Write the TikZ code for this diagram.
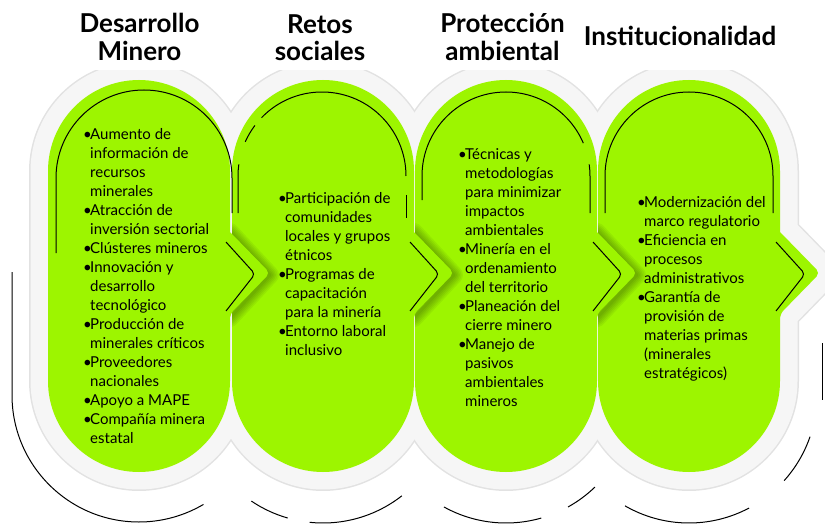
\documentclass[tikz,border=0pt]{standalone}
\usepackage{fontspec}
\setmainfont{Lato}
\usetikzlibrary{positioning}

\definecolor{panelgreen}{RGB}{157,245,0}
\definecolor{graybg}{RGB}{246,246,246}
\definecolor{grayedge}{RGB}{226,226,226}

% outline of one green panel (pill with arrow on the right), #1 = centre x
\newcommand{\panelpath}[1]{(#1-91,171) arc[start angle=180,end angle=360,radius=91] -- (#1+91,232) [rounded corners=5pt] -- (#1+131,273) -- (#1+91,314) [sharp corners] -- (#1+91,381) arc[start angle=0,end angle=180,radius=91] -- cycle}
\newcommand{\arrowpath}[1]{(#1+91,230) -- (#1+131,273) -- (#1+91,316) -- cycle}
\newcommand{\itm}{\makebox[6pt][l]{\hspace*{-1pt}\textbullet}}
\newcommand{\cnt}{\hspace*{6pt}}
\newcommand{\topr}{\rule{0pt}{15pt}}

\begin{document}
\begin{tikzpicture}[
    x=1pt, y=-1pt,
    title/.style={font=\bfseries\fontsize{26}{27.5}\selectfont, align=center, inner sep=0pt, anchor=north},
    bodytext/.style={font=\fontsize{15}{19}\selectfont, align=left, inner sep=0pt, anchor=north west},
    panel/.style={fill=panelgreen},
    deco/.style={black, line width=1pt},
    chevron/.style={black, line width=1pt, rounded corners=4pt},
    halo/.style={black, draw opacity=.05, line width=#1, line join=round, yshift=-2pt}
]
\useasboundingbox (0,0) rectangle (825,524);

% Light gray frame behind the panels
\begin{scope}
    \clip (0,71) rectangle (825,524);
    \foreach \cx in {139,323,506,689}
        \draw[grayedge, line width=38pt, line join=round] \panelpath{\cx};
    \foreach \cx in {139,323,506,689}
        \draw[graybg, fill=graybg, line width=35pt, line join=round] \panelpath{\cx};
\end{scope}

% Outer broken arcs
\draw[deco] (12,272) -- (12,395) arc[start angle=180,end angle=59.5,radius=127];
\draw[deco] (323,395) ++(124:128) arc[start angle=124,end angle=106,radius=128];
\draw[deco] (323,395) ++(96:128) arc[start angle=96,end angle=52,radius=128];
\draw[deco] (506,395) ++(119:128) arc[start angle=119,end angle=74,radius=128];
\draw[deco] (506,395) ++(61:128) arc[start angle=61,end angle=46,radius=128];
\draw[deco] (689,395) ++(120:128) arc[start angle=120,end angle=62,radius=128];
\draw[deco] (689,395) ++(42:128) arc[start angle=42,end angle=19,radius=128];
\draw[deco] (822,343) -- (822,400);

% Green panels, right to left, each with a soft shadow of its arrow
\fill[panel] \panelpath{689};
\begin{scope}
    \clip \panelpath{689};
    \foreach \w in {3,6,...,18}
        \draw[halo=\w pt] \arrowpath{506};
\end{scope}
\fill[panel] \panelpath{506};
\begin{scope}
    \clip \panelpath{506};
    \foreach \w in {3,6,...,18}
        \draw[halo=\w pt] \arrowpath{323};
\end{scope}
\fill[panel] \panelpath{323};
\begin{scope}
    \clip \panelpath{323};
    \foreach \w in {3,6,...,18}
        \draw[halo=\w pt] \arrowpath{139};
\end{scope}
\fill[panel] \panelpath{139};

% Inner arcs
\draw[deco] (56,253) -- (56,178) arc[start angle=180,end angle=360,radius=88] -- (232,213);
\draw[deco] (238,213) -- (238,176) arc[start angle=180,end angle=188,radius=84];
\draw[deco] (322,176) ++(204:84) arc[start angle=204,end angle=217,radius=84];
\draw[deco] (322,176) ++(224:84) arc[start angle=224,end angle=360,radius=84];
\draw[deco] (406,195) -- (406,218);
\draw[deco] (422,200) -- (422,176) arc[start angle=180,end angle=337,radius=84];
\draw[deco] (506,176) ++(352:84) arc[start angle=352,end angle=360,radius=84] -- (590,213);
\draw[deco] (605,213) -- (605,176) arc[start angle=180,end angle=360,radius=84] -- (773,213);

% Chevrons on the arrows
\foreach \cx in {139,323,506,689}
    \draw[chevron] (\cx+87,242) -- (\cx+116,274) -- (\cx+87,311);

% Titles
\node[title] (minero) at (139.5,7.5) {\rule{0pt}{25pt}Desarrollo\\Minero};
\node[title] (sociales) at (320,8) {\rule{0pt}{25pt}Retos\\sociales};
\node[title] (ambiental) at (502.5,7.5) {\rule{0pt}{25pt}Protección\\ambiental};
\node[title] (institucional) at (680,20.5) {\rule{0pt}{25pt}Institucionalidad};

% Lists
\node[bodytext] (minerolist) at (84,124) {\topr\itm Aumento de\\
    \cnt información de\\
    \cnt recursos\\
    \cnt minerales\\
    \itm Atracción de\\
    \cnt inversión sectorial\\
    \itm Clústeres mineros\\
    \itm Innovación y\\
    \cnt desarrollo\\
    \cnt tecnológico\\
    \itm Producción de\\
    \cnt minerales críticos\\
    \itm Proveedores\\
    \cnt nacionales\\
    \itm Apoyo a MAPE\\
    \itm Compañía minera\\
    \cnt estatal};

\node[bodytext] (socialeslist) at (279,188) {\topr\itm Participación de\\
    \cnt comunidades\\
    \cnt locales y grupos\\
    \cnt étnicos\\
    \itm Programas de\\
    \cnt capacitación\\
    \cnt para la minería\\
    \itm Entorno laboral\\
    \cnt inclusivo};

\node[bodytext] (ambientallist) at (459,144) {\topr\itm Técnicas y\\
    \cnt metodologías\\
    \cnt para minimizar\\
    \cnt impactos\\
    \cnt ambientales\\
    \itm Minería en el\\
    \cnt ordenamiento\\
    \cnt del territorio\\
    \itm Planeación del\\
    \cnt cierre minero\\
    \itm Manejo de\\
    \cnt pasivos\\
    \cnt ambientales\\
    \cnt mineros};

\node[bodytext] (institucionallist) at (638,192) {\topr\itm Modernización del\\
    \cnt marco regulatorio\\
    \itm Eficiencia en\\
    \cnt procesos\\
    \cnt administrativos\\
    \itm Garantía de\\
    \cnt provisión de\\
    \cnt materias primas\\
    \cnt (minerales\\
    \cnt estratégicos)};

\end{tikzpicture}
\end{document}
